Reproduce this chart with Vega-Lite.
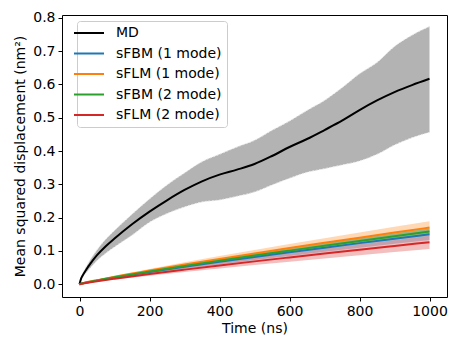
{
  "$schema": "https://vega.github.io/schema/vega-lite/v6.json",
  "width": 385,
  "height": 282,
  "autosize": "none",
  "padding": {"left": 62, "top": 15, "right": 14, "bottom": 49},
  "background": "white",
  "config": {
    "font": "DejaVu Sans",
    "view": {"stroke": "black", "strokeWidth": 1},
    "axis": {
      "grid": false,
      "domain": false,
      "labelFontSize": 14,
      "labelColor": "black",
      "labelOverlap": false,
      "titleFontSize": 14,
      "titleFontWeight": "normal",
      "titleColor": "black",
      "tickColor": "black",
      "tickSize": 4,
      "labelPadding": 3
    },
    "legend": {
      "orient": "none",
      "legendX": 15,
      "legendY": 6,
      "padding": 5,
      "strokeColor": "#cccccc",
      "fillColor": "white",
      "cornerRadius": 3,
      "symbolType": "M-3,0H3",
      "symbolStrokeWidth": 2,
      "symbolSize": 100,
      "symbolFillColor": "transparent",
      "labelFontSize": 14,
      "labelColor": "black",
      "labelOffset": 20,
      "rowPadding": 6.5
    }
  },
  "data": {
    "values": [
      {"series": "MD", "t": 0, "mean": 0, "lo": 0, "hi": 0},
      {"series": "MD", "t": 5, "mean": 0.018, "lo": 0.014, "hi": 0.022},
      {"series": "MD", "t": 10, "mean": 0.028, "lo": 0.022, "hi": 0.034},
      {"series": "MD", "t": 20, "mean": 0.045, "lo": 0.036, "hi": 0.054},
      {"series": "MD", "t": 30, "mean": 0.06, "lo": 0.048, "hi": 0.072},
      {"series": "MD", "t": 50, "mean": 0.087, "lo": 0.071, "hi": 0.103},
      {"series": "MD", "t": 75, "mean": 0.114, "lo": 0.093, "hi": 0.135},
      {"series": "MD", "t": 100, "mean": 0.137, "lo": 0.112, "hi": 0.161},
      {"series": "MD", "t": 150, "mean": 0.18, "lo": 0.147, "hi": 0.21},
      {"series": "MD", "t": 200, "mean": 0.218, "lo": 0.186, "hi": 0.256},
      {"series": "MD", "t": 250, "mean": 0.252, "lo": 0.212, "hi": 0.298},
      {"series": "MD", "t": 300, "mean": 0.283, "lo": 0.232, "hi": 0.334},
      {"series": "MD", "t": 350, "mean": 0.309, "lo": 0.247, "hi": 0.368},
      {"series": "MD", "t": 400, "mean": 0.329, "lo": 0.253, "hi": 0.39},
      {"series": "MD", "t": 450, "mean": 0.344, "lo": 0.264, "hi": 0.412},
      {"series": "MD", "t": 500, "mean": 0.361, "lo": 0.277, "hi": 0.432},
      {"series": "MD", "t": 550, "mean": 0.385, "lo": 0.298, "hi": 0.462},
      {"series": "MD", "t": 600, "mean": 0.412, "lo": 0.318, "hi": 0.49},
      {"series": "MD", "t": 650, "mean": 0.436, "lo": 0.336, "hi": 0.522},
      {"series": "MD", "t": 700, "mean": 0.463, "lo": 0.347, "hi": 0.552},
      {"series": "MD", "t": 750, "mean": 0.491, "lo": 0.358, "hi": 0.59},
      {"series": "MD", "t": 800, "mean": 0.523, "lo": 0.37, "hi": 0.632},
      {"series": "MD", "t": 850, "mean": 0.552, "lo": 0.39, "hi": 0.666},
      {"series": "MD", "t": 900, "mean": 0.577, "lo": 0.418, "hi": 0.714},
      {"series": "MD", "t": 950, "mean": 0.598, "lo": 0.44, "hi": 0.748},
      {"series": "MD", "t": 1000, "mean": 0.617, "lo": 0.456, "hi": 0.774},

      {"series": "sFBM (1 mode)", "t": 0, "mean": 0, "lo": 0, "hi": 0},
      {"series": "sFBM (1 mode)", "t": 10, "mean": 0.0026, "lo": 0.0023, "hi": 0.0029},
      {"series": "sFBM (1 mode)", "t": 50, "mean": 0.0107, "lo": 0.0095, "hi": 0.0119},
      {"series": "sFBM (1 mode)", "t": 100, "mean": 0.0198, "lo": 0.0176, "hi": 0.022},
      {"series": "sFBM (1 mode)", "t": 200, "mean": 0.0364, "lo": 0.0323, "hi": 0.0405},
      {"series": "sFBM (1 mode)", "t": 300, "mean": 0.052, "lo": 0.0461, "hi": 0.0579},
      {"series": "sFBM (1 mode)", "t": 400, "mean": 0.067, "lo": 0.0594, "hi": 0.0746},
      {"series": "sFBM (1 mode)", "t": 500, "mean": 0.0815, "lo": 0.0723, "hi": 0.0907},
      {"series": "sFBM (1 mode)", "t": 600, "mean": 0.0957, "lo": 0.0849, "hi": 0.1065},
      {"series": "sFBM (1 mode)", "t": 700, "mean": 0.1096, "lo": 0.0972, "hi": 0.122},
      {"series": "sFBM (1 mode)", "t": 800, "mean": 0.1233, "lo": 0.1093, "hi": 0.1373},
      {"series": "sFBM (1 mode)", "t": 900, "mean": 0.1367, "lo": 0.1212, "hi": 0.1522},
      {"series": "sFBM (1 mode)", "t": 1000, "mean": 0.15, "lo": 0.133, "hi": 0.167},

      {"series": "sFLM (1 mode)", "t": 0, "mean": 0, "lo": 0, "hi": 0},
      {"series": "sFLM (1 mode)", "t": 10, "mean": 0.003, "lo": 0.0027, "hi": 0.0033},
      {"series": "sFLM (1 mode)", "t": 50, "mean": 0.0122, "lo": 0.0108, "hi": 0.0136},
      {"series": "sFLM (1 mode)", "t": 100, "mean": 0.0224, "lo": 0.0199, "hi": 0.0249},
      {"series": "sFLM (1 mode)", "t": 200, "mean": 0.0412, "lo": 0.0366, "hi": 0.0458},
      {"series": "sFLM (1 mode)", "t": 300, "mean": 0.0589, "lo": 0.0523, "hi": 0.0655},
      {"series": "sFLM (1 mode)", "t": 400, "mean": 0.0759, "lo": 0.0674, "hi": 0.0844},
      {"series": "sFLM (1 mode)", "t": 500, "mean": 0.0924, "lo": 0.0821, "hi": 0.1027},
      {"series": "sFLM (1 mode)", "t": 600, "mean": 0.1085, "lo": 0.0964, "hi": 0.1206},
      {"series": "sFLM (1 mode)", "t": 700, "mean": 0.1242, "lo": 0.1103, "hi": 0.1381},
      {"series": "sFLM (1 mode)", "t": 800, "mean": 0.1397, "lo": 0.1241, "hi": 0.1553},
      {"series": "sFLM (1 mode)", "t": 900, "mean": 0.155, "lo": 0.1377, "hi": 0.1723},
      {"series": "sFLM (1 mode)", "t": 1000, "mean": 0.17, "lo": 0.151, "hi": 0.189},

      {"series": "sFBM (2 mode)", "t": 0, "mean": 0, "lo": 0, "hi": 0},
      {"series": "sFBM (2 mode)", "t": 10, "mean": 0.0027, "lo": 0.0025, "hi": 0.0029},
      {"series": "sFBM (2 mode)", "t": 50, "mean": 0.0113, "lo": 0.0104, "hi": 0.0122},
      {"series": "sFBM (2 mode)", "t": 100, "mean": 0.0208, "lo": 0.0192, "hi": 0.0224},
      {"series": "sFBM (2 mode)", "t": 200, "mean": 0.0383, "lo": 0.0354, "hi": 0.0412},
      {"series": "sFBM (2 mode)", "t": 300, "mean": 0.0548, "lo": 0.0506, "hi": 0.059},
      {"series": "sFBM (2 mode)", "t": 400, "mean": 0.0705, "lo": 0.0651, "hi": 0.0759},
      {"series": "sFBM (2 mode)", "t": 500, "mean": 0.0859, "lo": 0.0794, "hi": 0.0924},
      {"series": "sFBM (2 mode)", "t": 600, "mean": 0.1008, "lo": 0.0931, "hi": 0.1085},
      {"series": "sFBM (2 mode)", "t": 700, "mean": 0.1154, "lo": 0.1066, "hi": 0.1242},
      {"series": "sFBM (2 mode)", "t": 800, "mean": 0.1298, "lo": 0.1199, "hi": 0.1397},
      {"series": "sFBM (2 mode)", "t": 900, "mean": 0.144, "lo": 0.1331, "hi": 0.1549},
      {"series": "sFBM (2 mode)", "t": 1000, "mean": 0.158, "lo": 0.146, "hi": 0.17},

      {"series": "sFLM (2 mode)", "t": 0, "mean": 0, "lo": 0, "hi": 0},
      {"series": "sFLM (2 mode)", "t": 10, "mean": 0.0022, "lo": 0.0019, "hi": 0.0025},
      {"series": "sFLM (2 mode)", "t": 50, "mean": 0.009, "lo": 0.0076, "hi": 0.0104},
      {"series": "sFLM (2 mode)", "t": 100, "mean": 0.0166, "lo": 0.014, "hi": 0.0192},
      {"series": "sFLM (2 mode)", "t": 200, "mean": 0.0306, "lo": 0.0257, "hi": 0.0355},
      {"series": "sFLM (2 mode)", "t": 300, "mean": 0.0437, "lo": 0.0368, "hi": 0.0506},
      {"series": "sFLM (2 mode)", "t": 400, "mean": 0.0563, "lo": 0.0474, "hi": 0.0652},
      {"series": "sFLM (2 mode)", "t": 500, "mean": 0.0685, "lo": 0.0576, "hi": 0.0794},
      {"series": "sFLM (2 mode)", "t": 600, "mean": 0.0804, "lo": 0.0676, "hi": 0.0932},
      {"series": "sFLM (2 mode)", "t": 700, "mean": 0.0921, "lo": 0.0775, "hi": 0.1067},
      {"series": "sFLM (2 mode)", "t": 800, "mean": 0.1035, "lo": 0.0871, "hi": 0.1199},
      {"series": "sFLM (2 mode)", "t": 900, "mean": 0.1148, "lo": 0.0966, "hi": 0.133},
      {"series": "sFLM (2 mode)", "t": 1000, "mean": 0.126, "lo": 0.106, "hi": 0.146}
    ]
  },
  "encoding": {
    "x": {
      "field": "t",
      "type": "quantitative",
      "scale": {"domain": [-50, 1050], "nice": false, "zero": false},
      "axis": {"title": "Time (ns)", "values": [0, 200, 400, 600, 800, 1000], "format": "d", "titlePadding": 3}
    }
  },
  "layer": [
    {
      "transform": [{"filter": "datum.series === 'MD'"}],
      "mark": {"type": "area", "color": "#b3b3b3", "opacity": 1, "interpolate": "monotone"},
      "encoding": {
        "y": {
          "field": "lo",
          "type": "quantitative",
          "scale": {"domain": [-0.0385, 0.8085], "nice": false, "zero": false},
          "axis": {"title": "Mean squared displacement (nm²)", "values": [0, 0.1, 0.2, 0.3, 0.4, 0.5, 0.6, 0.7, 0.8], "format": ".1f", "titlePadding": 5}
        },
        "y2": {"field": "hi"}
      }
    },
    {
      "transform": [{"filter": "datum.series === 'MD'"}],
      "mark": {"type": "line", "color": "#e8e8e8", "strokeWidth": 1, "strokeDash": [2, 1.5], "interpolate": "monotone"},
      "encoding": {"y": {"field": "lo", "type": "quantitative", "axis": {"title": "Mean squared displacement (nm²)", "values": [0, 0.1, 0.2, 0.3, 0.4, 0.5, 0.6, 0.7, 0.8], "format": ".1f", "titlePadding": 5}}}
    },
    {
      "transform": [{"filter": "datum.series === 'MD'"}],
      "mark": {"type": "line", "color": "#e8e8e8", "strokeWidth": 1, "strokeDash": [2, 1.5], "interpolate": "monotone"},
      "encoding": {"y": {"field": "hi", "type": "quantitative", "axis": {"title": "Mean squared displacement (nm²)", "values": [0, 0.1, 0.2, 0.3, 0.4, 0.5, 0.6, 0.7, 0.8], "format": ".1f", "titlePadding": 5}}}
    },
    {
      "transform": [{"filter": "datum.series !== 'MD'"}],
      "mark": {"type": "area", "opacity": 0.3},
      "encoding": {
        "y": {"field": "lo", "type": "quantitative", "axis": {"title": "Mean squared displacement (nm²)", "values": [0, 0.1, 0.2, 0.3, 0.4, 0.5, 0.6, 0.7, 0.8], "format": ".1f", "titlePadding": 5}},
        "y2": {"field": "hi"},
        "fill": {
          "field": "series",
          "type": "nominal",
          "scale": {"domain": ["sFBM (1 mode)", "sFLM (1 mode)", "sFBM (2 mode)", "sFLM (2 mode)"], "range": ["#1f77b4", "#ff7f0e", "#2ca02c", "#d62728"]},
          "legend": null
        }
      }
    },
    {
      "mark": {"type": "line", "strokeWidth": 2, "interpolate": "monotone"},
      "encoding": {
        "y": {"field": "mean", "type": "quantitative", "axis": {"title": "Mean squared displacement (nm²)", "values": [0, 0.1, 0.2, 0.3, 0.4, 0.5, 0.6, 0.7, 0.8], "format": ".1f", "titlePadding": 5}},
        "color": {
          "field": "series",
          "type": "nominal",
          "sort": null,
          "scale": {"domain": ["MD", "sFBM (1 mode)", "sFLM (1 mode)", "sFBM (2 mode)", "sFLM (2 mode)"], "range": ["#000000", "#1f77b4", "#ff7f0e", "#2ca02c", "#d62728"]},
          "legend": {"title": null}
        }
      }
    }
  ]
}
